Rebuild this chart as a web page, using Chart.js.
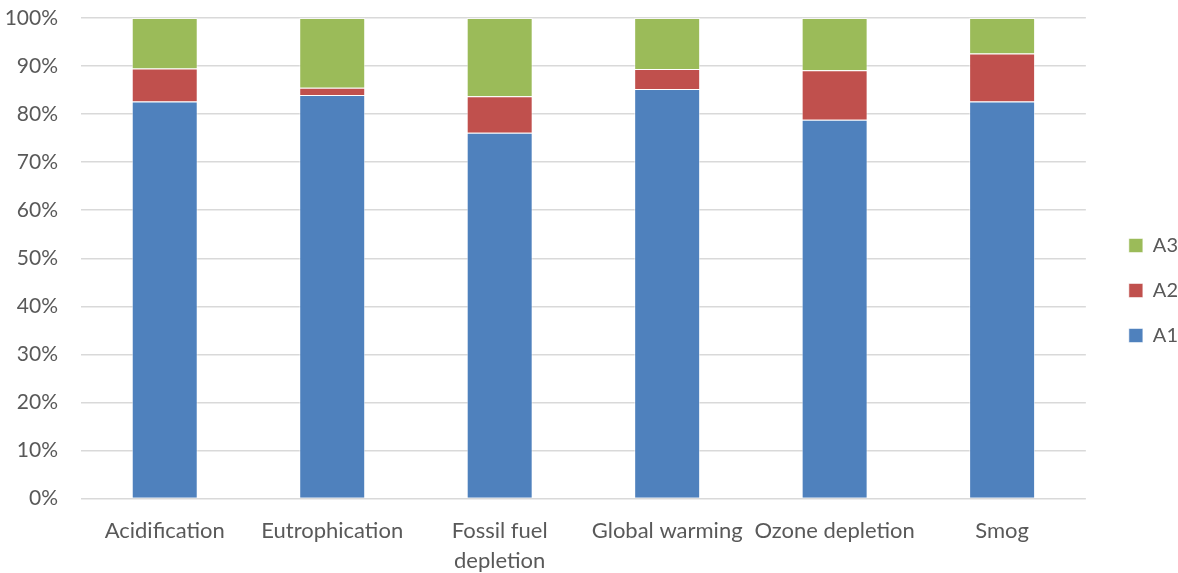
<!DOCTYPE html>
<html>
<head>
<meta charset="utf-8">
<script src="https://cdn.jsdelivr.net/npm/chart.js@4/dist/chart.umd.min.js"></script>
<style>
html,body{margin:0;padding:0;background:#fff;overflow:hidden;}
#wrap{width:1178px;height:573px;}
</style>
</head>
<body>
<div id="wrap"><canvas id="c"></canvas></div>
<script>
const categories = ["Acidification", "Eutrophication", ["Fossil fuel", "depletion"], "Global warming", "Ozone depletion", "Smog"];
const A1 = [82.6, 84.0, 76.1, 85.2, 78.8, 82.6];
const A2 = [6.9, 1.5, 7.6, 4.2, 10.3, 10.0];
const A3 = [10.5, 14.5, 16.3, 10.6, 10.9, 7.4];
const yTicks = [0, 10, 20, 30, 40, 50, 60, 70, 80, 90, 100];

const FAMILY = "Lato, 'Liberation Sans', sans-serif";
Chart.defaults.color = "#595959";

const LEGEND_SHIFT = 18;
const LEGEND_WIDEN = 8;
const LEGEND_DOWN = -5;
const legendGap = {
  id: "legendGap",
  beforeUpdate(chart) {
    const lg = chart.legend;
    if (lg && !lg._gapPatched) {
      const f = lg.fit;
      lg.fit = function () { f.call(this); this.width += LEGEND_WIDEN; };
      lg._gapPatched = true;
    }
  },
  afterLayout(chart) {
    if (chart.legend) {
      chart.legend.left += LEGEND_SHIFT;
      chart.legend.top += LEGEND_DOWN;
      chart.legend.bottom += LEGEND_DOWN;
    }
  }
};

new Chart(document.getElementById("c"), {
  type: "bar",
  data: {
    labels: categories,
    datasets: [
      { label: "A1", data: A1, backgroundColor: "#4F81BD", borderColor: "rgba(255,255,255,0.55)", borderWidth: 1 },
      { label: "A2", data: A2, backgroundColor: "#C0504D", borderColor: "rgba(255,255,255,0.55)", borderWidth: 1 },
      { label: "A3", data: A3, backgroundColor: "#9BBB59", borderColor: "rgba(255,255,255,0.55)", borderWidth: 1 }
    ]
  },
  plugins: [legendGap],
  options: {
    responsive: true,
    maintainAspectRatio: false,
    animation: false,
    layout: { padding: { top: 18, right: 0, left: 0, bottom: 0 } },
    datasets: { bar: { categoryPercentage: 1.0, barPercentage: 0.394 } },
    plugins: {
      tooltip: { enabled: false },
      legend: {
        position: "right",
        reverse: true,
        labels: { font: { family: FAMILY, size: 20 }, boxWidth: 14, boxHeight: 14, padding: 25, color: "#595959" }
      }
    },
    scales: {
      x: {
        stacked: true,
        grid: { display: false, drawTicks: false },
        border: { display: false },
        ticks: { font: { family: FAMILY, size: 22, lineHeight: 1.364 }, padding: 17.5, maxRotation: 0, autoSkip: false },
        afterFit: (s) => { s.height = 74.5; s.paddingTop = 0; s.paddingBottom = 0; }
      },
      y: {
        stacked: true,
        min: 0,
        max: 100,
        afterBuildTicks: (axis) => { axis.ticks = yTicks.map(v => ({ value: v })); },
        grid: { color: "#d9d9d9", lineWidth: 1.5, drawTicks: false },
        border: { display: false },
        ticks: { font: { family: FAMILY, size: 21 }, padding: 23, callback: (v) => v + "%" },
        afterFit: (s) => { s.width = 81; s.paddingTop = 0; s.paddingBottom = 0; }
      }
    }
  }
});
</script>
</body>
</html>
